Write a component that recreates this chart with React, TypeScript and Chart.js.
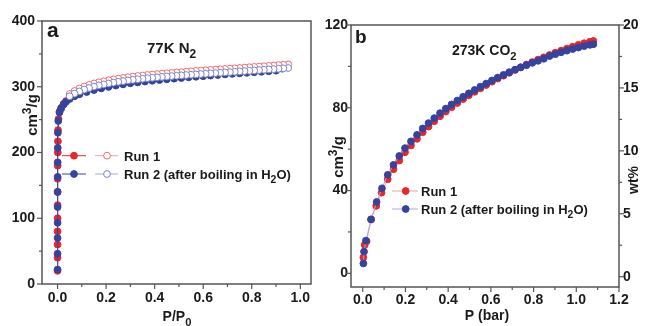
import React, { useEffect, useRef } from 'react';
import { Chart, registerables } from 'chart.js';
Chart.register(...registerables);

// ---------- DATA ----------
// Panel a: 77K N2 (P/P0 vs cm3/g)
const n2Run1AdsX = [0.00002, 0.00005, 0.0001, 0.00015, 0.0002, 0.0003, 0.0004, 0.0005, 0.0007, 0.001, 0.0015, 0.002, 0.004,
  0.008, 0.015, 0.025, 0.035, 0.05, 0.07, 0.09, 0.12, 0.15, 0.18, 0.21, 0.24, 0.27, 0.30, 0.33, 0.36, 0.39, 0.42, 0.45, 0.48,
  0.51, 0.54, 0.57, 0.60, 0.63, 0.66, 0.69, 0.72, 0.75, 0.78, 0.81, 0.84, 0.87, 0.90, 0.92];
const n2Run1AdsY = [20, 40, 60, 80, 100, 120, 140, 160, 180, 200, 217, 234, 251,
  262, 268, 274, 278.2, 282.7, 286.7, 289.7, 293.2, 296.2, 298.7, 301, 303, 304.8, 306.4, 307.8, 309.1, 310.3, 311.4, 312.5, 313.5,
  314.5, 315.5, 316.4, 317.3, 318.2, 319.1, 320, 320.8, 321.6, 322.4, 323.2, 324, 324.8, 325.8, 331];

const n2Run2AdsX = [0.00003, 0.00007, 0.00012, 0.00018, 0.00025, 0.00035, 0.00045, 0.0006, 0.0009, 0.0014, 0.003,
  0.008, 0.015, 0.025, 0.035, 0.05, 0.07, 0.09, 0.12, 0.15, 0.18, 0.21, 0.24, 0.27, 0.30, 0.33, 0.36, 0.39, 0.42, 0.45, 0.48,
  0.51, 0.54, 0.57, 0.60, 0.63, 0.66, 0.69, 0.72, 0.75, 0.78, 0.81, 0.84, 0.87, 0.90, 0.925];
const n2Run2AdsY = [22, 46, 70, 93, 117, 140, 163, 185, 207, 230, 248,
  261, 267, 273, 277, 281.5, 285.5, 288.5, 292, 295, 297.5, 299.8, 301.8, 303.6, 305.2, 306.6, 307.9, 309.1, 310.2, 311.3, 312.3,
  313.3, 314.3, 315.2, 316.1, 317, 317.9, 318.8, 319.6, 320.4, 321.2, 322, 322.8, 323.6, 324.5, 327.5];

const n2DesX = [0.95, 0.93, 0.91, 0.89, 0.87, 0.85, 0.83, 0.81, 0.79, 0.77, 0.75, 0.73, 0.71, 0.69, 0.67, 0.65, 0.63, 0.61,
  0.59, 0.57, 0.55, 0.53, 0.51, 0.49, 0.47, 0.45, 0.43, 0.41, 0.39, 0.37, 0.35, 0.33, 0.31, 0.29, 0.27, 0.25, 0.23, 0.21,
  0.19, 0.17, 0.15, 0.13, 0.11, 0.09, 0.07, 0.05];
const n2Run1DesY = [334, 333.5, 333, 332.3, 331.8, 331.2, 330.7, 330.2, 329.7, 329.1, 328.6, 328.1, 327.6, 327.1, 326.6, 326.1,
  325.6, 325.1, 324.6, 324.1, 323.5, 322.9, 322.3, 321.7, 321.1, 320.5, 319.9, 319.3, 318.6, 317.9, 317.1, 316.3, 315.4, 314.5,
  313.5, 312.4, 311.2, 309.9, 308.4, 306.8, 305, 302.8, 300.3, 297.3, 293.6, 289];
const n2Run2DesY = [328.5, 328, 327.4, 326.8, 326.3, 325.8, 325.3, 324.8, 324.3, 323.8, 323.3, 322.8, 322.3, 321.8, 321.3, 320.8,
  320.3, 319.8, 319.3, 318.8, 318.3, 317.8, 317.3, 316.8, 316.2, 315.6, 315, 314.4, 313.7, 313, 312.2, 311.4, 310.5, 309.6,
  308.6, 307.5, 306.3, 305, 303.6, 302, 300.2, 298.1, 295.7, 292.9, 289.6, 285.5];

// Panel b: 273K CO2 (P bar vs cm3/g)
const co2Run1X = [0.003, 0.009, 0.018, 0.039, 0.063, 0.088, 0.117, 0.144, 0.171, 0.198, 0.226, 0.254, 0.281, 0.308, 0.335,
  0.362, 0.389, 0.416, 0.443, 0.47, 0.497, 0.524, 0.551, 0.578, 0.605, 0.632, 0.659, 0.686, 0.713, 0.74, 0.767, 0.794, 0.821,
  0.848, 0.875, 0.902, 0.929, 0.956, 0.983, 1.01, 1.037, 1.064, 1.08];
const co2Run1Y = [7.7, 13.7, 15.5, 26, 32.6, 39, 45.5, 50.3, 54.5, 58.5, 61.8, 65, 68.2, 70.9, 73.5,
  75.9, 78.2, 80.3, 82.3, 84.2, 86, 87.7, 89.4, 91, 92.6, 94.1, 95.5, 96.9, 98.3, 99.6, 100.9, 102.1, 103.3,
  104.4, 105.5, 106.6, 107.6, 108.6, 109.5, 110.4, 111.2, 111.9, 112.3];
const co2Run2X = [0.003, 0.006, 0.015, 0.039, 0.065, 0.09, 0.117, 0.144, 0.171, 0.198, 0.226, 0.254, 0.281, 0.308, 0.335,
  0.362, 0.389, 0.416, 0.443, 0.47, 0.497, 0.524, 0.551, 0.578, 0.605, 0.632, 0.659, 0.686, 0.713, 0.74, 0.767, 0.794, 0.821,
  0.848, 0.875, 0.902, 0.929, 0.956, 0.983, 1.01, 1.037, 1.064, 1.08];
const co2Run2Y = [4.8, 10.5, 15.8, 26.1, 34.5, 41.1, 47.6, 52.4, 56.7, 60.5, 63.8, 66.9, 70, 72.6, 75,
  77.4, 79.6, 81.6, 83.5, 85.3, 87, 88.6, 90.2, 91.7, 93.2, 94.6, 95.9, 97.2, 98.4, 99.5, 100.6, 101.7, 102.7,
  103.7, 105, 105.9, 106.8, 107.6, 108.4, 109.1, 109.8, 110.4, 110.7];

// Ticks
const n2XTicks = [0, 0.2, 0.4, 0.6, 0.8, 1.0];
const n2XMinor = [0.1, 0.3, 0.5, 0.7, 0.9];
const n2YTicks = [0, 100, 200, 300, 400];
const n2YMinor = [50, 150, 250, 350];
const co2XTicks = [0, 0.2, 0.4, 0.6, 0.8, 1.0, 1.2];
const co2XMinor = [0.1, 0.3, 0.5, 0.7, 0.9, 1.1];
const co2YTicks = [0, 40, 80, 120];
const co2YMinor = [20, 60, 100];
const wtTicks = [0, 5, 10, 15, 20];
const wtMinor = [2.5, 7.5, 12.5, 17.5];

const legendLabels = ['Run 1', 'Run 2 (after boiling in H', '2', 'O)'];

// ---------- STYLE ----------
const FONT = '"Liberation Sans", Arial, Helvetica, sans-serif';
const RED = '#e8262b';
const BLUE = '#34449e';
const RED_OPEN = '#f06a6a';
const BLUE_OPEN = '#7c84c8';
const RED_LINE = '#f2a0a0';
const BLUE_LINE = '#a6abdc';
const AXIS = '#555555';
const TXT = '#1a1a1a';
const W = 645;
const H = 326;

type Part = [string, number];
function rich(ctx: CanvasRenderingContext2D, parts: Part[], x: number, y: number, size: number, bold: boolean, align: string) {
  const f = (s: number) => `${bold ? 'bold ' : ''}${s}px ${FONT}`;
  const small = size * 0.8;
  let w = 0;
  for (const [t, k] of parts) { ctx.font = f(k ? small : size); w += ctx.measureText(t).width; }
  let cx = align === 'center' ? x - w / 2 : align === 'right' ? x - w : x;
  ctx.textAlign = 'left';
  ctx.textBaseline = 'alphabetic';
  ctx.fillStyle = TXT;
  for (const [t, k] of parts) {
    ctx.font = f(k ? small : size);
    const dy = k === 1 ? -size * 0.4 : k === 2 ? size * 0.33 : 0;
    ctx.fillText(t, cx, y + dy);
    cx += ctx.measureText(t).width;
  }
}
function richRot(ctx: CanvasRenderingContext2D, parts: Part[], x: number, y: number, size: number, bold: boolean) {
  ctx.save();
  ctx.translate(x, y);
  ctx.rotate(-Math.PI / 2);
  rich(ctx, parts, 0, 0, size, bold, 'center');
  ctx.restore();
}
function dot(ctx: CanvasRenderingContext2D, x: number, y: number, fill: string, stroke: string) {
  ctx.beginPath();
  ctx.arc(x, y, 3.4, 0, Math.PI * 2);
  ctx.fillStyle = fill;
  ctx.fill();
  ctx.lineWidth = 1;
  ctx.strokeStyle = stroke;
  ctx.stroke();
}
function seg(ctx: CanvasRenderingContext2D, x1: number, x2: number, y: number, c: string) {
  ctx.beginPath();
  ctx.moveTo(x1, y);
  ctx.lineTo(x2, y);
  ctx.lineWidth = 1;
  ctx.strokeStyle = c;
  ctx.stroke();
}

function drawTicks(chart: any, axisId: string, majors: number[], minors: number[], side: string) {
  const ctx = chart.ctx;
  const a = chart.chartArea;
  const s = chart.scales[axisId];
  ctx.strokeStyle = AXIS;
  ctx.lineWidth = 1.2;
  const one = (v: number, len: number) => {
    const p = s.getPixelForValue(v);
    ctx.beginPath();
    if (side === 'bottom') { ctx.moveTo(p, a.bottom); ctx.lineTo(p, a.bottom + len); }
    else if (side === 'left') { ctx.moveTo(a.left, p); ctx.lineTo(a.left - len, p); }
    else { ctx.moveTo(a.right, p); ctx.lineTo(a.right + len, p); }
    ctx.stroke();
  };
  majors.forEach((v) => one(v, 5));
  minors.forEach((v) => one(v, 3));
}

function frame(chart: any) {
  const ctx = chart.ctx;
  const a = chart.chartArea;
  ctx.strokeStyle = AXIS;
  ctx.lineWidth = 1.5;
  ctx.strokeRect(a.left, a.top, a.right - a.left, a.bottom - a.top);
}

const pts = (xs: number[], ys: number[]) => xs.map((x, i) => ({ x, y: ys[i] }));

const tickFont = { family: FONT, size: 14, weight: 'bold' as const };

function xScale(min: number, max: number, majors: number[], height: number, pad: number) {
  return {
    type: 'linear', position: 'bottom', min, max,
    afterBuildTicks: (ax: any) => { ax.ticks = majors.map((v) => ({ value: v })); },
    afterFit: (ax: any) => { ax.height = height; },
    ticks: { font: tickFont, color: TXT, padding: pad, maxRotation: 0, minRotation: 0, autoSkip: false,
      callback: (v: any) => Number(v).toFixed(1) },
    grid: { display: false, drawTicks: false },
    border: { display: false },
  };
}
function yScale(pos: string, min: number, max: number, majors: number[], width: number, pad: number) {
  return {
    type: 'linear', position: pos, min, max,
    afterBuildTicks: (ax: any) => { ax.ticks = majors.map((v) => ({ value: v })); },
    afterFit: (ax: any) => { ax.width = width; },
    ticks: { font: tickFont, color: TXT, padding: pad, autoSkip: false, callback: (v: any) => String(v) },
    grid: { display: false, drawTicks: false },
    border: { display: false },
  };
}

export default function App() {
  const leftRef = useRef<HTMLCanvasElement>(null);
  const rightRef = useRef<HTMLCanvasElement>(null);

  useEffect(() => {
    const base = {
      borderWidth: 1, tension: 0, pointRadius: 3.4, pointHoverRadius: 3.4, pointBorderWidth: 1,
    };
    const left = new Chart(leftRef.current as HTMLCanvasElement, {
      type: 'line',
      data: {
        datasets: [
          { ...base, label: 'Run 2 des', data: pts(n2DesX, n2Run2DesY), order: 0, borderColor: BLUE_LINE,
            pointBackgroundColor: '#ffffff', pointBorderColor: BLUE_OPEN },
          { ...base, label: 'Run 1 des', data: pts(n2DesX, n2Run1DesY), order: 1, borderColor: RED_LINE,
            pointBackgroundColor: '#ffffff', pointBorderColor: RED_OPEN },
          { ...base, label: 'Run 2', data: pts(n2Run2AdsX, n2Run2AdsY), order: 2, borderColor: BLUE,
            pointBackgroundColor: BLUE, pointBorderColor: BLUE },
          { ...base, label: 'Run 1', data: pts(n2Run1AdsX, n2Run1AdsY), order: 3, borderColor: RED,
            pointBackgroundColor: RED, pointBorderColor: RED },
        ],
      },
      options: {
        animation: false, responsive: false, maintainAspectRatio: false,
        layout: { padding: { top: 21, right: W - 311, left: 0, bottom: 0 } },
        plugins: { legend: { display: false }, tooltip: { enabled: false }, title: { display: false } },
        events: [],
        scales: {
          x: xScale(-0.064, 1.044, n2XTicks, H - 284, 6),
          y: yScale('left', 0, 400, n2YTicks, 42, 7),
        } as any,
      },
      plugins: [{
        id: 'decorA',
        afterDraw(chart: any) {
          const ctx = chart.ctx;
          ctx.save();
          frame(chart);
          drawTicks(chart, 'x', n2XTicks, n2XMinor, 'bottom');
          drawTicks(chart, 'y', n2YTicks, n2YMinor, 'left');
          rich(ctx, [['a', 0]], 47, 37, 21, true, 'left');
          rich(ctx, [['77K N', 0], ['2', 2]], 147, 53, 15, true, 'left');
          richRot(ctx, [['cm', 0], ['3', 1], ['/g', 0]], 37, 115, 15, true);
          rich(ctx, [['P/P', 0], ['0', 2]], 177, 321, 14, true, 'center');
          // legend
          seg(ctx, 62, 86, 155.7, RED); dot(ctx, 74, 155.7, RED, RED);
          seg(ctx, 95, 118, 155.7, RED_LINE); dot(ctx, 107, 155.7, '#ffffff', RED_OPEN);
          rich(ctx, [[legendLabels[0], 0]], 124, 160.5, 13, true, 'left');
          seg(ctx, 62, 86, 174, BLUE); dot(ctx, 74, 174, BLUE, BLUE);
          seg(ctx, 95, 118, 174, BLUE_LINE); dot(ctx, 107, 174, '#ffffff', BLUE_OPEN);
          rich(ctx, [[legendLabels[1], 0], [legendLabels[2], 2], [legendLabels[3], 0]], 124, 178.8, 13, true, 'left');
          ctx.restore();
        },
      }],
    } as any);

    const right = new Chart(rightRef.current as HTMLCanvasElement, {
      type: 'line',
      data: {
        datasets: [
          { ...base, label: 'Run 2', data: pts(co2Run2X, co2Run2Y), order: 0, borderColor: BLUE_LINE,
            pointBackgroundColor: BLUE, pointBorderColor: BLUE, yAxisID: 'y' },
          { ...base, label: 'Run 1', data: pts(co2Run1X, co2Run1Y), order: 1, borderColor: RED_LINE,
            pointBackgroundColor: RED, pointBorderColor: RED, yAxisID: 'y' },
        ],
      },
      options: {
        animation: false, responsive: false, maintainAspectRatio: false,
        layout: { padding: { top: 25, right: 0, left: 325, bottom: 0 } },
        plugins: { legend: { display: false }, tooltip: { enabled: false }, title: { display: false } },
        events: [],
        scales: {
          x: xScale(-0.055, 1.2, co2XTicks, H - 287, 5),
          y: yScale('left', -6.6, 120, co2YTicks, 26, 3),
          y2: yScale('right', -0.82, 20, wtTicks, 26, 4),
        } as any,
      },
      plugins: [{
        id: 'decorB',
        afterDraw(chart: any) {
          const ctx = chart.ctx;
          ctx.save();
          frame(chart);
          drawTicks(chart, 'x', co2XTicks, co2XMinor, 'bottom');
          drawTicks(chart, 'y', co2YTicks, co2YMinor, 'left');
          drawTicks(chart, 'y2', wtTicks, wtMinor, 'right');
          rich(ctx, [['b', 0]], 355, 43, 19, true, 'left');
          rich(ctx, [['273K CO', 0], ['2', 2]], 452, 55, 14, true, 'left');
          richRot(ctx, [['cm', 0], ['3', 1], ['/g', 0]], 343, 157, 15, true);
          richRot(ctx, [['wt%', 0]], 638, 180, 14, true);
          rich(ctx, [['P (bar)', 0]], 487, 320, 14, true, 'center');
          // legend
          seg(ctx, 392, 418, 191, RED_LINE); dot(ctx, 405.7, 191, RED, RED);
          rich(ctx, [[legendLabels[0], 0]], 421, 195.8, 13, true, 'left');
          seg(ctx, 392, 418, 209, BLUE_LINE); dot(ctx, 405.7, 209, BLUE, BLUE);
          rich(ctx, [[legendLabels[1], 0], [legendLabels[2], 2], [legendLabels[3], 0]], 421, 213.8, 13, true, 'left');
          ctx.restore();
        },
      }],
    } as any);

    return () => { left.destroy(); right.destroy(); };
  }, []);

  const cs: React.CSSProperties = { position: 'absolute', left: 0, top: 0, width: W, height: H };
  return (
    <div style={{ position: 'fixed', left: 0, top: 0, width: W, height: H, background: '#ffffff', overflow: 'hidden' }}>
      <canvas ref={leftRef} width={W} height={H} style={cs} />
      <canvas ref={rightRef} width={W} height={H} style={cs} />
    </div>
  );
}
